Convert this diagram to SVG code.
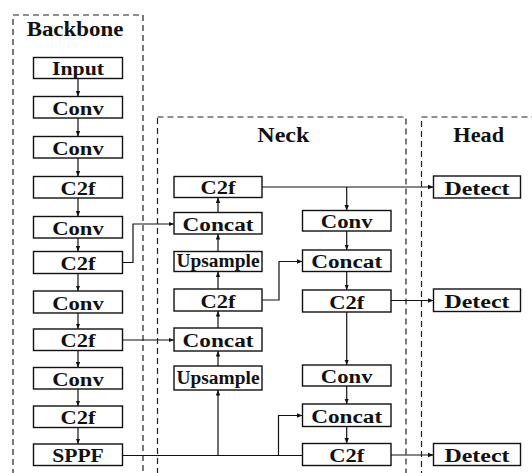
<svg xmlns="http://www.w3.org/2000/svg" width="532" height="473" viewBox="0 0 532 473">
<defs>
<marker id="ah" viewBox="0 0 10 10" refX="10" refY="5" markerWidth="5.5" markerHeight="5.5" orient="auto" markerUnits="userSpaceOnUse">
<path d="M0,1 L10,5 L0,9 Z" fill="#111"/>
</marker>
<style>
.grp{fill:none;stroke:#222;stroke-width:1.2;stroke-dasharray:6,4}
.box{fill:#fff;stroke:#111;stroke-width:1.4}
.t{font-family:"Liberation Serif","Times New Roman",serif;font-weight:bold;font-size:18px;fill:#111;text-anchor:middle}
.h{font-family:"Liberation Serif","Times New Roman",serif;font-weight:bold;font-size:20px;fill:#111;text-anchor:middle}
.c{fill:none;stroke:#111;stroke-width:1.2}
.a{marker-end:url(#ah)}
</style>
</defs>
<rect width="532" height="473" fill="#fff"/>
<g id="groups">
<rect class="grp" x="13" y="15" width="130" height="475"/>
<rect class="grp" x="157.5" y="117" width="248.5" height="375"/>
<rect class="grp" x="421.5" y="117" width="130" height="375"/>
<text class="h" x="75" y="35.5" textLength="96.7" lengthAdjust="spacingAndGlyphs">Backbone</text>
<text class="h" x="283.3" y="141.7" textLength="52" lengthAdjust="spacingAndGlyphs">Neck</text>
<text class="h" x="478.7" y="141.7" textLength="50.7" lengthAdjust="spacingAndGlyphs">Head</text>
</g>
<g id="connectors">
<path class="c a" d="M78,78.5 V96.5"/>
<path class="c a" d="M78,118 V136.5"/>
<path class="c a" d="M78,158 V176.5"/>
<path class="c a" d="M78,198 V216.5"/>
<path class="c a" d="M78,238 V251.5"/>
<path class="c a" d="M78,273.5 V291"/>
<path class="c a" d="M78,313 V329"/>
<path class="c a" d="M78,350.5 V367.5"/>
<path class="c a" d="M78,389 V406"/>
<path class="c a" d="M78,427.5 V444"/>
<path class="c a" d="M122.5,262.5 H133 V224 H174"/>
<path class="c a" d="M122.5,340 H174"/>
<path class="c" d="M122.5,455.5 H302.5"/>
<path class="c a" d="M218,455.5 V390"/>
<path class="c a" d="M218,366 V351"/>
<path class="c a" d="M218,328 V311"/>
<path class="c a" d="M218,289 V271.5"/>
<path class="c a" d="M218,251.5 V234"/>
<path class="c a" d="M218,212.5 V197.5"/>
<path class="c a" d="M278.5,455.5 V415.5 H302.5"/>
<path class="c a" d="M262,187 H433.5"/>
<path class="c a" d="M346.7,187 V210.5"/>
<path class="c a" d="M346.7,231 V250"/>
<path class="c a" d="M346.7,271.5 V290"/>
<path class="c a" d="M262,300 H279 V261.5 H302.5"/>
<path class="c a" d="M391,300.5 H433.5"/>
<path class="c a" d="M346.7,312 V365"/>
<path class="c a" d="M346.7,386 V404"/>
<path class="c a" d="M346.7,426.5 V443.5"/>
<path class="c a" d="M391,455 H433.5"/>
</g>
<g id="b_input"><rect class="box" x="33.5" y="57.5" width="89" height="21"/><text class="t" x="78" y="75.3" textLength="52" lengthAdjust="spacingAndGlyphs">Input</text></g>
<g id="b_conv1"><rect class="box" x="33.5" y="96.5" width="89" height="21.5"/><text class="t" x="78" y="114.8" textLength="51.7" lengthAdjust="spacingAndGlyphs">Conv</text></g>
<g id="b_conv2"><rect class="box" x="33.5" y="136.5" width="89" height="21.5"/><text class="t" x="78" y="154.8" textLength="51.7" lengthAdjust="spacingAndGlyphs">Conv</text></g>
<g id="b_c2f1"><rect class="box" x="33.5" y="176.5" width="89" height="21.5"/><text class="t" x="78" y="194.8" textLength="35" lengthAdjust="spacingAndGlyphs">C2f</text></g>
<g id="b_conv3"><rect class="box" x="33.5" y="216.5" width="89" height="21.5"/><text class="t" x="78" y="234.8" textLength="51.7" lengthAdjust="spacingAndGlyphs">Conv</text></g>
<g id="b_c2f2"><rect class="box" x="33.5" y="251.5" width="89" height="22"/><text class="t" x="78" y="270" textLength="35" lengthAdjust="spacingAndGlyphs">C2f</text></g>
<g id="b_conv4"><rect class="box" x="33.5" y="291" width="89" height="22"/><text class="t" x="78" y="309.5" textLength="51.7" lengthAdjust="spacingAndGlyphs">Conv</text></g>
<g id="b_c2f3"><rect class="box" x="33.5" y="329" width="89" height="21.5"/><text class="t" x="78" y="347.3" textLength="35" lengthAdjust="spacingAndGlyphs">C2f</text></g>
<g id="b_conv5"><rect class="box" x="33.5" y="367.5" width="89" height="21.5"/><text class="t" x="78" y="385.8" textLength="51.7" lengthAdjust="spacingAndGlyphs">Conv</text></g>
<g id="b_c2f4"><rect class="box" x="33.5" y="406" width="89" height="21.5"/><text class="t" x="78" y="424.3" textLength="35" lengthAdjust="spacingAndGlyphs">C2f</text></g>
<g id="b_sppf"><rect class="box" x="33.5" y="444" width="89" height="21.5"/><text class="t" x="78" y="462.3" textLength="51.7" lengthAdjust="spacingAndGlyphs">SPPF</text></g>
<g id="n_c2f1"><rect class="box" x="174" y="176.5" width="88" height="21"/><text class="t" x="218" y="194.3" textLength="35" lengthAdjust="spacingAndGlyphs">C2f</text></g>
<g id="n_concat1"><rect class="box" x="174" y="212.5" width="88" height="21.5"/><text class="t" x="218" y="230.8" textLength="71" lengthAdjust="spacingAndGlyphs">Concat</text></g>
<g id="n_up1"><rect class="box" x="174" y="251.5" width="88" height="20"/><text class="t" x="218" y="266.5" textLength="83" lengthAdjust="spacingAndGlyphs">Upsample</text></g>
<g id="n_c2f2"><rect class="box" x="174" y="289" width="88" height="22"/><text class="t" x="218" y="307.5" textLength="35" lengthAdjust="spacingAndGlyphs">C2f</text></g>
<g id="n_concat2"><rect class="box" x="174" y="328" width="88" height="23"/><text class="t" x="218" y="346.5" textLength="71" lengthAdjust="spacingAndGlyphs">Concat</text></g>
<g id="n_up2"><rect class="box" x="174" y="366" width="88" height="24"/><text class="t" x="218" y="384" textLength="83" lengthAdjust="spacingAndGlyphs">Upsample</text></g>
<g id="n_conv1"><rect class="box" x="302.5" y="210.5" width="88.5" height="20.5"/><text class="t" x="346.7" y="228" textLength="51.7" lengthAdjust="spacingAndGlyphs">Conv</text></g>
<g id="n_concat3"><rect class="box" x="302.5" y="250" width="88.5" height="21.5"/><text class="t" x="346.7" y="268.3" textLength="71" lengthAdjust="spacingAndGlyphs">Concat</text></g>
<g id="n_c2f3"><rect class="box" x="302.5" y="290" width="88.5" height="22"/><text class="t" x="346.7" y="308.5" textLength="35" lengthAdjust="spacingAndGlyphs">C2f</text></g>
<g id="n_conv2"><rect class="box" x="302.5" y="365" width="88.5" height="21"/><text class="t" x="346.7" y="382.8" textLength="51.7" lengthAdjust="spacingAndGlyphs">Conv</text></g>
<g id="n_concat4"><rect class="box" x="302.5" y="404" width="88.5" height="22.5"/><text class="t" x="346.7" y="422.5" textLength="71" lengthAdjust="spacingAndGlyphs">Concat</text></g>
<g id="n_c2f4"><rect class="box" x="302.5" y="443.5" width="88.5" height="22"/><text class="t" x="346.7" y="462" textLength="35" lengthAdjust="spacingAndGlyphs">C2f</text></g>
<g id="h_det1"><rect class="box" x="433.5" y="176" width="87" height="22"/><text class="t" x="477" y="194.5" textLength="65" lengthAdjust="spacingAndGlyphs">Detect</text></g>
<g id="h_det2"><rect class="box" x="433.5" y="289" width="87" height="22.5"/><text class="t" x="477" y="307.5" textLength="65" lengthAdjust="spacingAndGlyphs">Detect</text></g>
<g id="h_det3"><rect class="box" x="433.5" y="443.5" width="87" height="22"/><text class="t" x="477" y="462" textLength="65" lengthAdjust="spacingAndGlyphs">Detect</text></g>
</svg>
